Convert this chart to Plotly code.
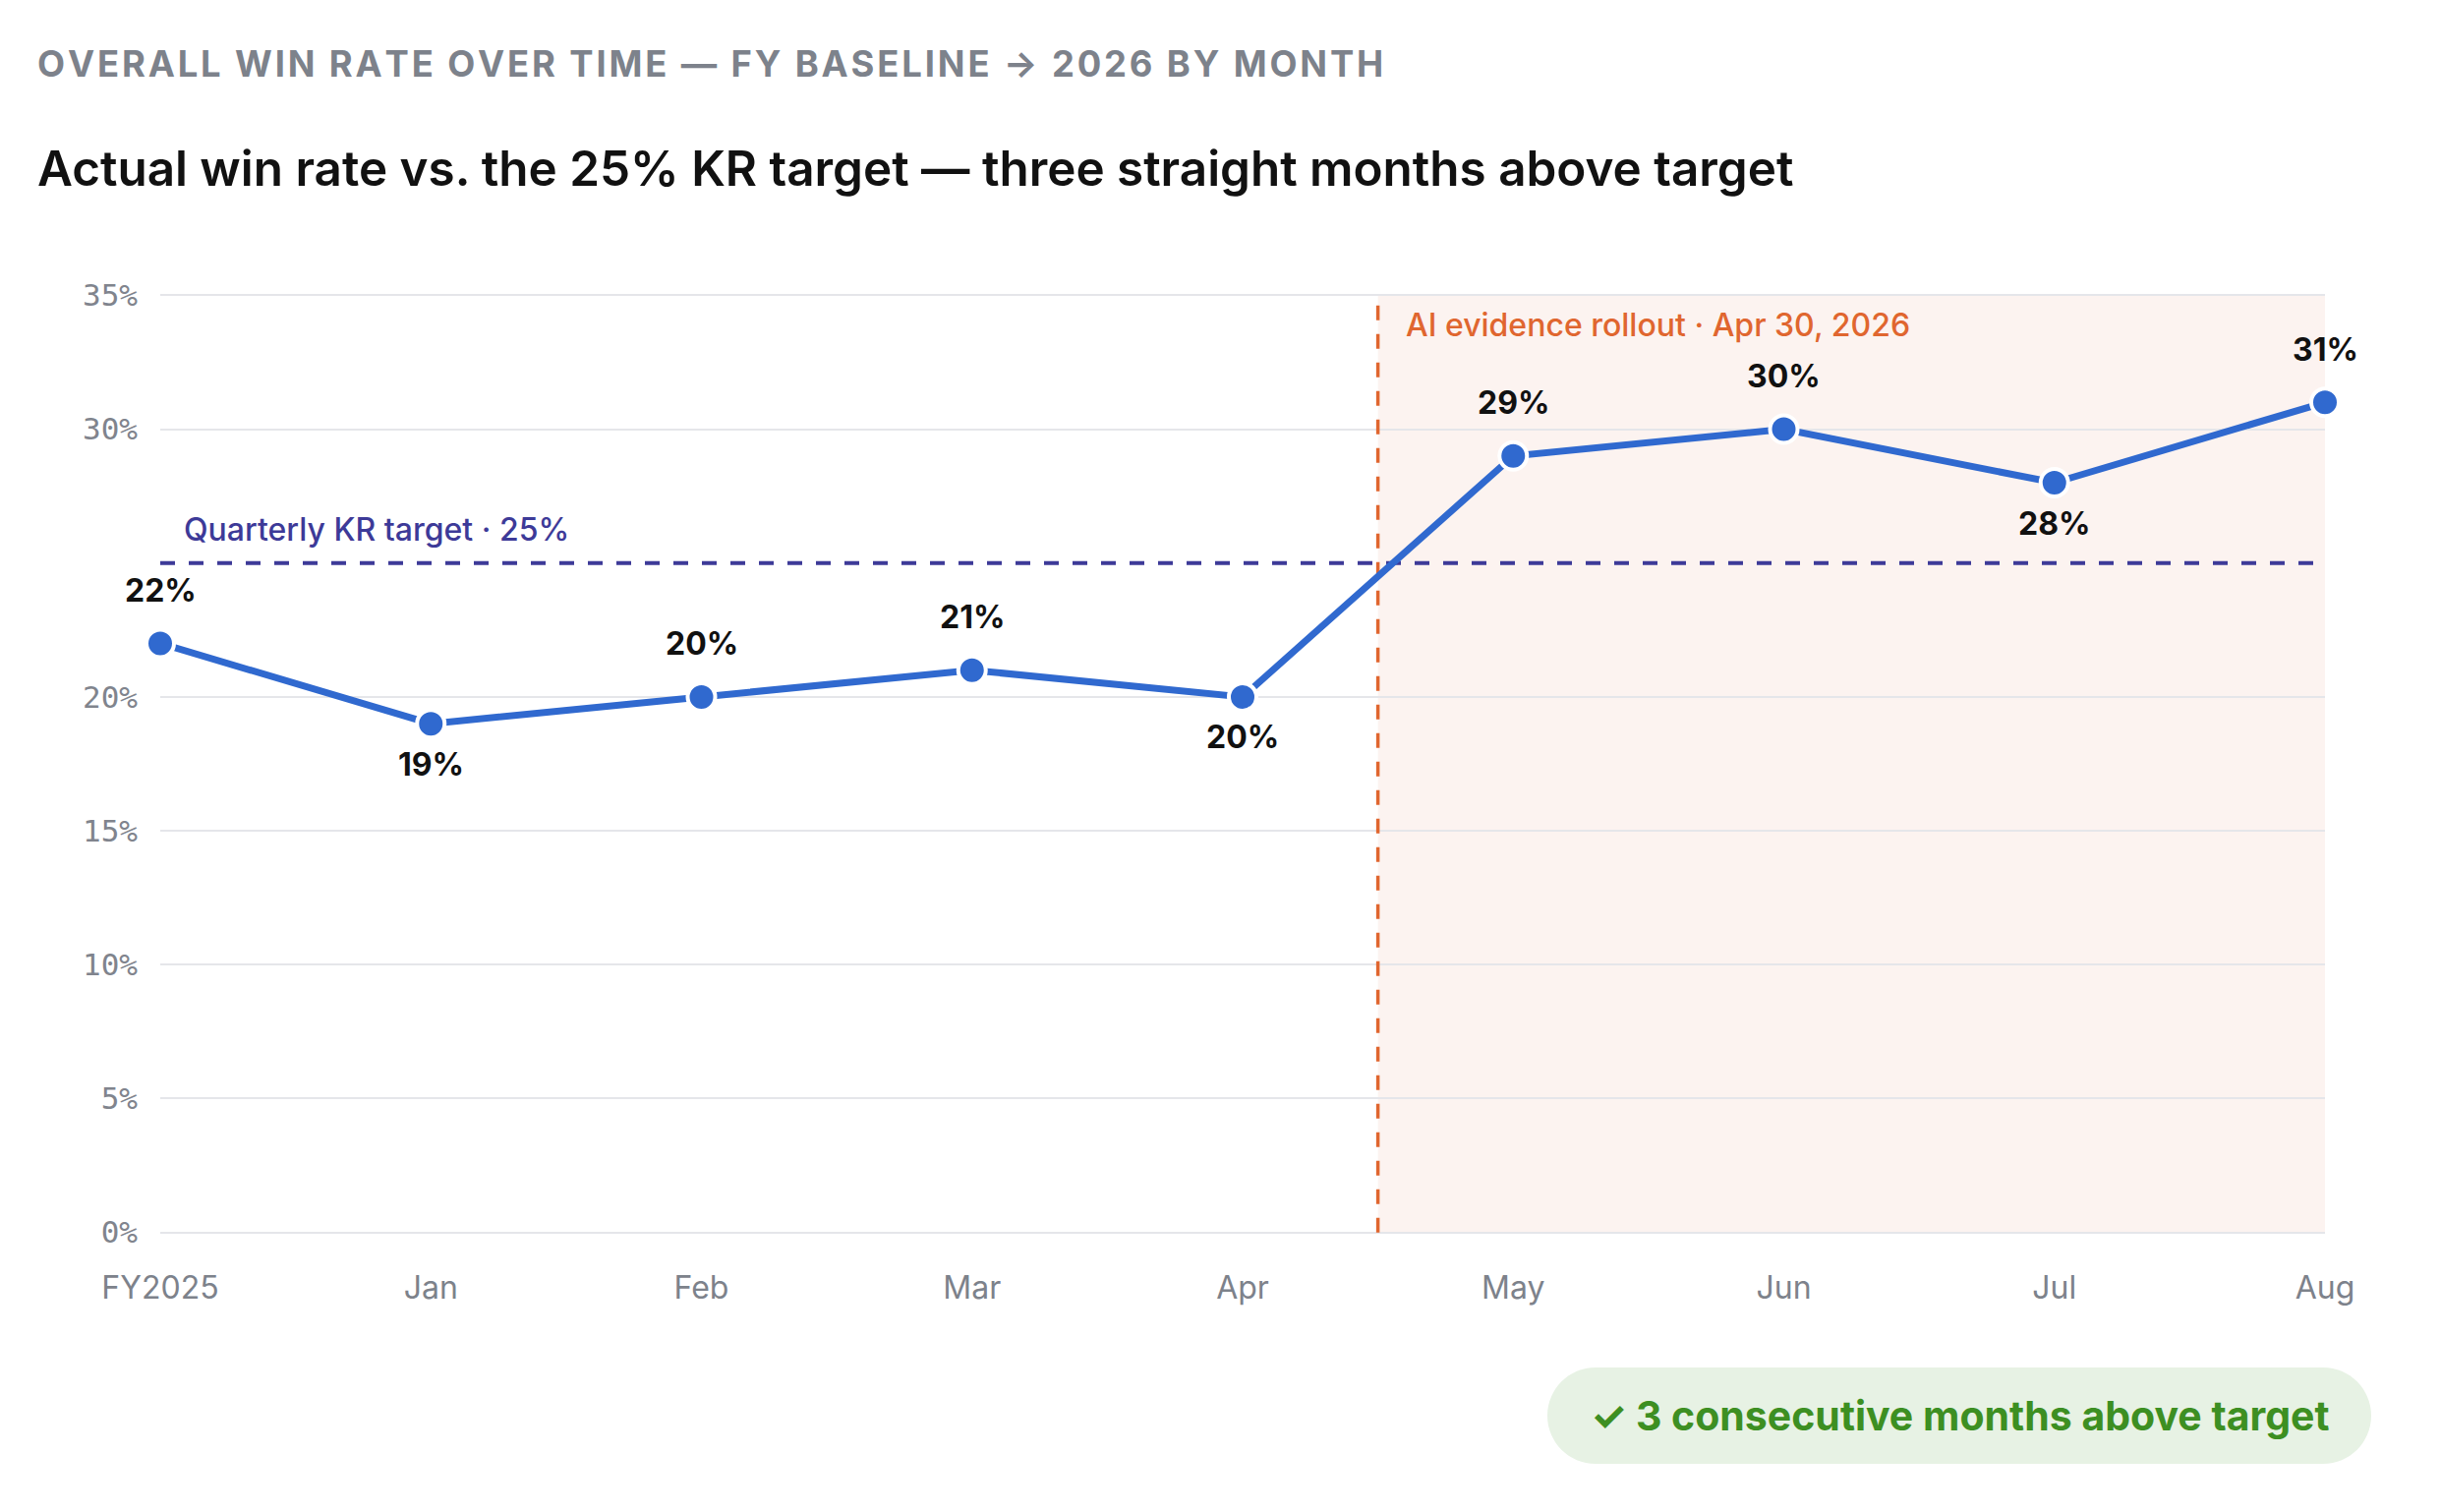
import plotly.graph_objects as go

# dados do gráfico
meses = ["FY2025", "Jan", "Feb", "Mar", "Apr", "May", "Jun", "Jul", "Aug"]
win_rate = [22, 19, 20, 21, 20, 29, 30, 28, 31]
label_pos = ["above", "below", "above", "above", "below", "above", "above", "below", "above"]
y_ticks = [0, 5, 10, 15, 20, 30, 35]
meta_kr = 25
rollout_x = 4.5  # entre Apr e May (30 de abril)

subtitulo = "OVERALL WIN RATE OVER TIME — FY BASELINE → 2026 BY MONTH"
titulo = "Actual win rate vs. the 25% KR target — three straight months above target"
texto_meta = "Quarterly KR target · 25%"
texto_rollout = "AI evidence rollout · Apr 30, 2026"
texto_badge = "✓ 3 consecutive months above target"

SANS = "Inter, Roboto, sans-serif"
MONO = "'DejaVu Sans Mono', monospace"

# espaçamento entre letras do subtítulo (hair space)
sub_espacado = "\u200a".join(subtitulo)


def pill(x0, x1, y0, y1):
    # retângulo com pontas arredondadas, em pixels
    r = (y1 - y0) / 2
    k = 0.5523 * r
    m = (y0 + y1) / 2
    return (f"M {x0 + r},{y1} L {x1 - r},{y1} "
            f"C {x1 - r + k},{y1} {x1},{m + k} {x1},{m} "
            f"C {x1},{m - k} {x1 - r + k},{y0} {x1 - r},{y0} "
            f"L {x0 + r},{y0} "
            f"C {x0 + r - k},{y0} {x0},{m - k} {x0},{m} "
            f"C {x0},{m + k} {x0 + r - k},{y1} {x0 + r},{y1} Z")


fig = go.Figure()

fig.add_trace(go.Scatter(
    x=meses, y=win_rate, mode="lines+markers",
    line=dict(color="#3069cf", width=7),
    marker=dict(size=28, color="#3069cf", line=dict(color="white", width=4)),
    cliponaxis=False, hoverinfo="skip", showlegend=False,
))

# faixa pós-rollout
fig.add_shape(type="rect", x0=rollout_x, x1=len(meses) - 1, y0=0, y1=35,
              fillcolor="#fcf3f0", line_width=0, layer="below")
# linha da meta
fig.add_shape(type="line", x0=0, x1=len(meses) - 1, y0=meta_kr, y1=meta_kr,
              line=dict(color="#3d3a98", width=4, dash="15px,14px"), layer="between")
# linha do rollout
fig.add_shape(type="line", x0=rollout_x, x1=rollout_x, y0=0, y1=35,
              line=dict(color="#e0662f", width=3.5, dash="15px,14px"), layer="between")

# badge
fig.add_shape(type="path", xref="paper", yref="paper",
              xsizemode="pixel", ysizemode="pixel", xanchor=1, yanchor=0,
              path=pill(-791, 47, -234, -136),
              fillcolor="#e7f2e4", line_width=0)

# rótulos dos pontos
for m, v, p in zip(meses, win_rate, label_pos):
    fig.add_annotation(x=m, y=v, text=f"{v}%", showarrow=False,
                       yshift=54 if p == "above" else -41,
                       font=dict(family=SANS, size=32, color="#111111", weight="bold"))

fig.add_annotation(x=0, y=meta_kr, text=texto_meta, showarrow=False,
                   xanchor="left", yanchor="middle", xshift=22, yshift=34,
                   font=dict(family=SANS, size=32, color="#3d3a98", weight=500))
fig.add_annotation(x=rollout_x, y=35, text=texto_rollout, showarrow=False,
                   xanchor="left", yanchor="middle", xshift=26, yshift=-30,
                   font=dict(family=SANS, size=32, color="#e0662f", weight=500))
fig.add_annotation(xref="paper", yref="paper", x=1, y=0, text=texto_badge,
                   showarrow=False, xanchor="center", yanchor="middle",
                   xshift=-372, yshift=-185,
                   font=dict(family=SANS, size=41, color="#3d8f22", weight="bold"))

# títulos
fig.add_annotation(xref="paper", yref="paper", x=0, y=1, text=sub_espacado,
                   showarrow=False, xanchor="left", yanchor="middle",
                   xshift=-127, yshift=234,
                   font=dict(family=SANS, size=36.4, color="#7d828b", weight="bold"))
fig.add_annotation(xref="paper", yref="paper", x=0, y=1, text=titulo,
                   showarrow=False, xanchor="left", yanchor="middle",
                   xshift=-127, yshift=128,
                   font=dict(family=SANS, size=49.4, color="#111111", weight=600))

fig.update_xaxes(range=[0, len(meses) - 1], showgrid=False, zeroline=False,
                 showline=False, ticks="", ticklabelstandoff=33,
                 tickfont=dict(family=SANS, size=32, color="#7d828b"))
fig.update_yaxes(range=[-0.05, 35.05], tickvals=y_ticks,
                 ticktext=[f"{v}%" for v in y_ticks],
                 showgrid=True, gridcolor="#e5e6ea", gridwidth=2,
                 zeroline=False, showline=False, ticks="", ticklabelstandoff=22,
                 tickfont=dict(family=MONO, size=31, color="#80848d"))

# a página tem 8px de margem no body: compensa aqui
fig.update_layout(
    width=2466, height=1522,
    margin=dict(l=155, r=109, t=291, b=275),
    plot_bgcolor="white", paper_bgcolor="white",
    showlegend=False,
)

fig.write_html("out.html")
